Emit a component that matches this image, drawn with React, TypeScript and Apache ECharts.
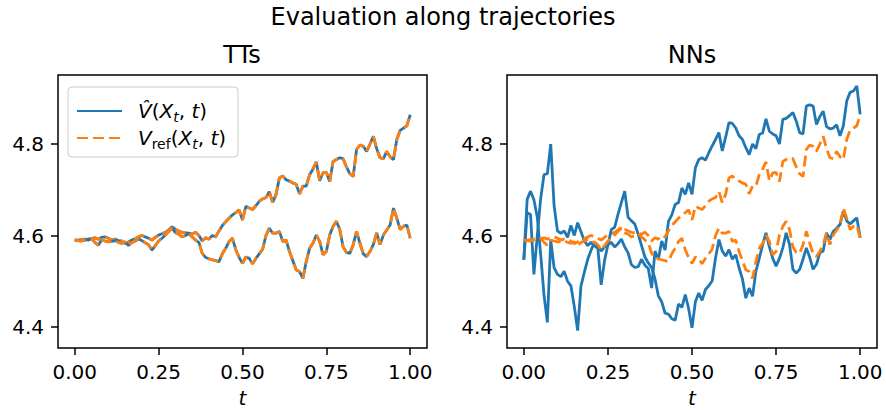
import React, { useEffect, useRef } from "react";
import * as echarts from "echarts";

// Time grid: 101 evenly spaced steps on [0, 1]
const STEPS = 100;
const T: number[] = Array.from({ length: STEPS + 1 }, (_, i) => i / STEPS);

const X_TICKS = [0, 0.25, 0.5, 0.75, 1.0];
const Y_TICKS = [4.4, 4.6, 4.8];
const PANEL_TITLES = ["TTs", "NNs"];
const SUPTITLE = "Evaluation along trajectories";

// Reference value V_ref along trajectory 1 (upper) and 2 (lower)
const REF_UP = [
  4.590, 4.590, 4.591, 4.592, 4.590, 4.593, 4.595, 4.592, 4.596, 4.597,
  4.594, 4.590, 4.592, 4.589, 4.588, 4.582, 4.586, 4.590, 4.593, 4.597,
  4.600, 4.597, 4.594, 4.590, 4.596, 4.601, 4.604, 4.607, 4.612, 4.619,
  4.614, 4.610, 4.607, 4.606, 4.605, 4.603, 4.607, 4.600, 4.588, 4.595,
  4.592, 4.600, 4.597, 4.610, 4.622, 4.630, 4.638, 4.645, 4.650, 4.656,
  4.634, 4.664, 4.660, 4.657, 4.665, 4.675, 4.680, 4.683, 4.696, 4.672,
  4.690, 4.726, 4.730, 4.722, 4.719, 4.715, 4.712, 4.691, 4.708, 4.708,
  4.733, 4.745, 4.761, 4.720, 4.737, 4.738, 4.718, 4.762, 4.766, 4.770,
  4.768, 4.750, 4.735, 4.729, 4.788, 4.798, 4.795, 4.784, 4.800, 4.817,
  4.790, 4.770, 4.768, 4.784, 4.772, 4.766, 4.810, 4.830, 4.835, 4.840,
  4.864,
];
const REF_LOW = [
  4.590, 4.589, 4.588, 4.590, 4.592, 4.594, 4.585, 4.579, 4.590, 4.588,
  4.586, 4.587, 4.589, 4.585, 4.583, 4.586, 4.578, 4.585, 4.588, 4.592,
  4.589, 4.584, 4.580, 4.568, 4.578, 4.588, 4.594, 4.601, 4.609, 4.616,
  4.606, 4.603, 4.597, 4.600, 4.604, 4.597, 4.590, 4.585, 4.561, 4.552,
  4.549, 4.547, 4.545, 4.543, 4.560, 4.572, 4.587, 4.594, 4.569, 4.552,
  4.539, 4.553, 4.550, 4.538, 4.550, 4.560, 4.570, 4.600, 4.616, 4.605,
  4.605, 4.609, 4.587, 4.590, 4.565, 4.545, 4.525, 4.521, 4.506, 4.543,
  4.572, 4.583, 4.601, 4.587, 4.558, 4.565, 4.601, 4.620, 4.631, 4.613,
  4.575, 4.563, 4.561, 4.580, 4.609, 4.583, 4.560, 4.554, 4.565, 4.580,
  4.606, 4.580, 4.601, 4.612, 4.623, 4.660, 4.638, 4.613, 4.620, 4.623,
  4.594,
];

// TT approximation: visually identical to the reference
const TT_HAT_UP = REF_UP;
const TT_HAT_LOW = REF_LOW;

// NN approximation along trajectory 1 (upper) and 2 (lower)
const NN_HAT_UP = [
  4.547, 4.650, 4.646, 4.515, 4.600, 4.680, 4.733, 4.735, 4.800, 4.665,
  4.610, 4.605, 4.610, 4.596, 4.622, 4.600, 4.628, 4.608, 4.588, 4.578,
  4.585, 4.578, 4.572, 4.492, 4.545, 4.580, 4.585, 4.575, 4.582, 4.592,
  4.575, 4.562, 4.536, 4.530, 4.532, 4.548, 4.535, 4.528, 4.485, 4.566,
  4.548, 4.588, 4.568, 4.631, 4.645, 4.668, 4.672, 4.704, 4.690, 4.715,
  4.690, 4.748, 4.766, 4.770, 4.765, 4.781, 4.796, 4.810, 4.825, 4.785,
  4.815, 4.847, 4.845, 4.835, 4.818, 4.810, 4.792, 4.777, 4.800, 4.790,
  4.821, 4.824, 4.855, 4.828, 4.822, 4.818, 4.800, 4.854, 4.856, 4.862,
  4.869, 4.850, 4.825, 4.822, 4.883, 4.886, 4.883, 4.843, 4.860, 4.872,
  4.838, 4.833, 4.835, 4.842, 4.818, 4.840, 4.894, 4.913, 4.916, 4.927,
  4.865,
];
const NN_HAT_LOW = [
  4.547, 4.679, 4.697, 4.678, 4.640, 4.560, 4.470, 4.410, 4.590, 4.530,
  4.515, 4.510, 4.522, 4.500, 4.490, 4.445, 4.392, 4.490, 4.520, 4.548,
  4.568, 4.585, 4.578, 4.566, 4.575, 4.578, 4.613, 4.618, 4.646, 4.672,
  4.697, 4.640, 4.632, 4.625, 4.603, 4.578, 4.553, 4.540, 4.530, 4.505,
  4.468, 4.455, 4.430, 4.428, 4.418, 4.415, 4.450, 4.443, 4.471, 4.440,
  4.398, 4.455, 4.474, 4.458, 4.482, 4.490, 4.501, 4.551, 4.591, 4.566,
  4.555, 4.569, 4.548, 4.558, 4.529, 4.505, 4.463, 4.485, 4.467, 4.522,
  4.550, 4.580, 4.606, 4.575, 4.550, 4.533, 4.550, 4.573, 4.606, 4.580,
  4.526, 4.518, 4.526, 4.548, 4.573, 4.552, 4.526, 4.537, 4.562, 4.566,
  4.606, 4.591, 4.609, 4.616, 4.624, 4.653, 4.632, 4.625, 4.632, 4.639,
  4.595,
];

const FONT = "DejaVu Sans";
const BLUE = "#1f77b4";
const ORANGE = "#ff7f0e";

const pairs = (vals: number[]) => vals.map((v, i) => [T[i], v]);

export default function App() {
  const ref = useRef<HTMLDivElement>(null);

  useEffect(() => {
    if (!ref.current) return;
    const chart = echarts.init(ref.current, null, { renderer: "svg" });

    const grids = [
      { left: 58, top: 75, width: 369, height: 273 },
      { left: 507, top: 75, width: 370, height: 273 },
    ];

    const xAxis = grids.map((_, gi) => ({
      type: "value",
      gridIndex: gi,
      min: -0.05,
      max: 1.05,
      axisLine: { show: false, onZero: false },
      splitLine: { show: false },
      axisTick: {
        show: true,
        length: 7,
        customValues: X_TICKS,
        lineStyle: { color: "#000", width: 1.5 },
      },
      axisLabel: {
        customValues: X_TICKS,
        formatter: (v: number) => v.toFixed(2),
        margin: 14,
        fontSize: 20,
        color: "#000",
        fontFamily: FONT,
      },
      name: "t",
      nameLocation: "middle",
      nameGap: 40,
      nameTextStyle: {
        fontStyle: "italic",
        fontSize: 20,
        color: "#000",
        fontFamily: FONT,
      },
    }));

    const yAxis = grids.map((_, gi) => ({
      type: "value",
      gridIndex: gi,
      min: 4.354,
      max: 4.951,
      axisLine: { show: false, onZero: false },
      splitLine: { show: false },
      axisTick: {
        show: true,
        length: 7,
        customValues: Y_TICKS,
        lineStyle: { color: "#000", width: 1.5 },
      },
      axisLabel: {
        customValues: Y_TICKS,
        formatter: (v: number) => v.toFixed(1),
        margin: 14,
        fontSize: 20,
        color: "#000",
        fontFamily: FONT,
      },
    }));

    const mk = (name: string, vals: number[], gi: number, dashed: boolean) => ({
      type: "line",
      name,
      xAxisIndex: gi,
      yAxisIndex: gi,
      data: pairs(vals),
      showSymbol: false,
      symbol: "none",
      silent: true,
      itemStyle: { color: dashed ? ORANGE : BLUE },
      lineStyle: {
        color: dashed ? ORANGE : BLUE,
        width: 2.8,
        type: dashed ? [11, 5] : "solid",
      },
    });

    const series = [
      mk("vhat", TT_HAT_UP, 0, false),
      mk("vref", REF_UP, 0, true),
      mk("vhat", TT_HAT_LOW, 0, false),
      mk("vref", REF_LOW, 0, true),
      mk("vhat", NN_HAT_UP, 1, false),
      mk("vref", REF_UP, 1, true),
      mk("vhat", NN_HAT_LOW, 1, false),
      mk("vref", REF_LOW, 1, true),
    ];

    const option = {
      animation: false,
      backgroundColor: "#fff",
      grid: grids.map((g) => ({
        ...g,
        show: true,
        borderColor: "#000",
        borderWidth: 1.5,
        backgroundColor: "transparent",
        containLabel: false,
        outerBoundsMode: "none",
      })),
      xAxis,
      yAxis,
      legend: {
        data: ["vhat", "vref"],
        orient: "vertical",
        left: 68,
        top: 87,
        padding: [14, 12, 6, 8],
        itemWidth: 45,
        itemHeight: 14,
        itemGap: 4,
        borderColor: "#cccccc",
        borderWidth: 1,
        borderRadius: 4,
        backgroundColor: "rgba(255,255,255,0.8)",
        selectedMode: false,
        itemStyle: { opacity: 0, borderWidth: 0 },
        formatter: (name: string) =>
          name === "vhat"
            ? "{g|}{i|V\u0302}{r|(}{i|X}{s|t}{r|, }{i|t}{r|)}"
            : "{g|}{i|V}{sr|ref}{r|(}{i|X}{s|t}{r|, }{i|t}{r|)}",
        textStyle: {
          fontFamily: FONT,
          fontSize: 20,
          color: "#000",
          rich: {
            g: { width: 11 },
            i: { fontStyle: "italic", fontSize: 20, fontFamily: FONT, color: "#000", lineHeight: 26 },
            r: { fontSize: 20, fontFamily: FONT, color: "#000", lineHeight: 26 },
            s: { fontStyle: "italic", fontSize: 14, fontFamily: FONT, color: "#000", lineHeight: 14, verticalAlign: "bottom" },
            sr: { fontSize: 14, fontFamily: FONT, color: "#000", lineHeight: 14, verticalAlign: "bottom" },
          },
        },
      },
      graphic: [
        {
          type: "text",
          x: 443,
          y: 17,
          style: {
            text: SUPTITLE,
            fontSize: 24,
            fontFamily: FONT,
            fill: "#000",
            align: "center",
            verticalAlign: "middle",
          },
        },
        {
          type: "text",
          x: 242,
          y: 55,
          style: {
            text: PANEL_TITLES[0],
            fontSize: 24,
            fontFamily: FONT,
            fill: "#000",
            align: "center",
            verticalAlign: "middle",
          },
        },
        {
          type: "text",
          x: 692,
          y: 55,
          style: {
            text: PANEL_TITLES[1],
            fontSize: 24,
            fontFamily: FONT,
            fill: "#000",
            align: "center",
            verticalAlign: "middle",
          },
        },
      ],
      series,
    };

    chart.setOption(option as any);
    return () => chart.dispose();
  }, []);

  return (
    <div
      ref={ref}
      style={{ position: "absolute", left: 0, top: 0, width: 886, height: 410 }}
    />
  );
}
